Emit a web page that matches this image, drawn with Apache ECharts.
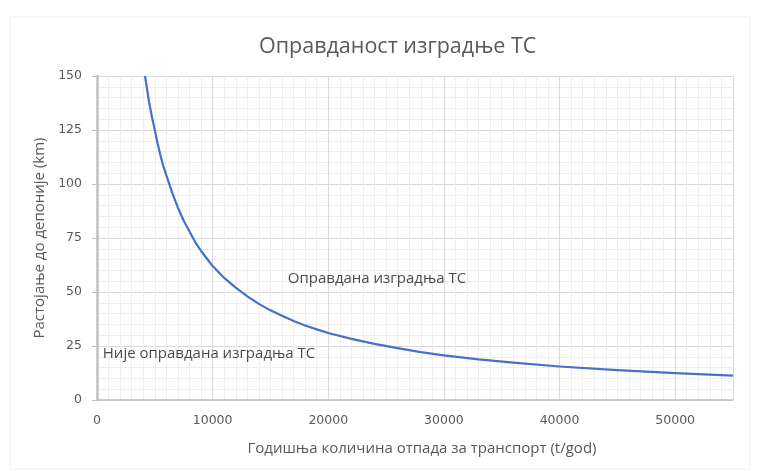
<!DOCTYPE html>
<html><head><meta charset="utf-8">
<script src="https://cdn.jsdelivr.net/npm/echarts@6/dist/echarts.min.js"></script>
<style>html,body{margin:0;padding:0;background:#fff}#c{width:758px;height:471px}</style>
</head><body><div id="c"></div>
<script>
var titleText = 'Оправданост изградње ТС';
var xName = 'Годишња количина отпада за транспорт (t/god)';
var yName = 'Растојање до депоније (km)';
var xValues = [4150, 4300, 4500, 4750, 5000, 5250, 5500, 5750, 6000, 6500, 7000, 7500, 8000, 8500, 9000, 9500, 10000, 11000, 12000, 13000, 14000, 15000, 16000, 17000, 18000, 19000, 20000, 22000, 24000, 26000, 28000, 30000, 33000, 36000, 40000, 45000, 50000, 55000];
var yValues = [150, 145, 138, 131, 125, 118.5, 113, 108, 104, 96, 89, 83, 78, 73, 69, 65.5, 62, 56.5, 52, 48, 44.5, 41.5, 39, 36.6, 34.5, 32.7, 31, 28.3, 26, 24, 22.2, 20.7, 18.8, 17.3, 15.5, 13.8, 12.4, 11.3];
var noteLabels = ['Оправдана изградња ТС', 'Није оправдана изградња ТС'];
var noteX = [16500, 500];
var noteY = [56, 21.5];

var lineData = xValues.map(function(x, i){ return [x, yValues[i]]; });
var noteData = noteLabels.map(function(t, i){ return {value:[noteX[i], noteY[i]], name:t}; });

var chart = echarts.init(document.getElementById('c'));
chart.setOption({
  animation:false,
  backgroundColor:'#fff',
  graphic:[{type:'rect', shape:{x:10,y:17,width:740,height:452}, style:{fill:'none', stroke:'#efefef', lineWidth:1}, silent:true}],
  title:{text:titleText, left:254, top:31, textStyle:{fontFamily:'Open Sans', fontSize:21.5, fontWeight:'normal', color:'#595959'}},
  grid:{left:97, right:25, top:76, bottom:71, containLabel:false},
  xAxis:{type:'value', min:0, max:55000, interval:10000,
    name:xName, nameLocation:'middle', nameGap:41,
    nameTextStyle:{fontFamily:'Open Sans', fontSize:15, color:'#595959', padding:[0,0,0,14]},
    axisLine:{show:true, lineStyle:{color:'#bfbfbf', width:1.5}},
    axisTick:{show:false},
    axisLabel:{fontFamily:'DejaVu Sans', fontSize:12.5, color:'#595959', margin:14, showMaxLabel:false,
      formatter:function(v){ return String(v); }},
    splitLine:{show:true, lineStyle:{color:'#d9d9d9', width:1}},
    minorTick:{show:false, splitNumber:10},
    minorSplitLine:{show:true, lineStyle:{color:'#eeeeee', width:1}}
  },
  yAxis:{type:'value', min:0, max:150, interval:25,
    name:yName, nameLocation:'middle', nameGap:45,
    nameTextStyle:{fontFamily:'Open Sans', fontSize:15, color:'#595959'},
    axisLine:{show:true, lineStyle:{color:'#bfbfbf', width:2.5}},
    axisTick:{show:true, length:5, lineStyle:{color:'#bfbfbf'}},
    axisLabel:{fontFamily:'DejaVu Sans', fontSize:12.5, color:'#595959', margin:15},
    splitLine:{show:true, lineStyle:{color:'#d9d9d9', width:1}},
    minorTick:{show:false, splitNumber:5},
    minorSplitLine:{show:true, lineStyle:{color:'#eeeeee', width:1}}
  },
  series:[
    {type:'line', data:lineData, smooth:false, showSymbol:false, symbol:'none',
     lineStyle:{color:'#4472c4', width:2.2, join:'round'}, clip:true, z:3},
    {type:'scatter', data:noteData, symbolSize:0, silent:true,
     label:{show:true, position:'right', distance:0, formatter:'{b}',
       fontFamily:'Open Sans', fontSize:15, color:'#1a1a1a'}, z:4}
  ]
});
</script></body></html>
